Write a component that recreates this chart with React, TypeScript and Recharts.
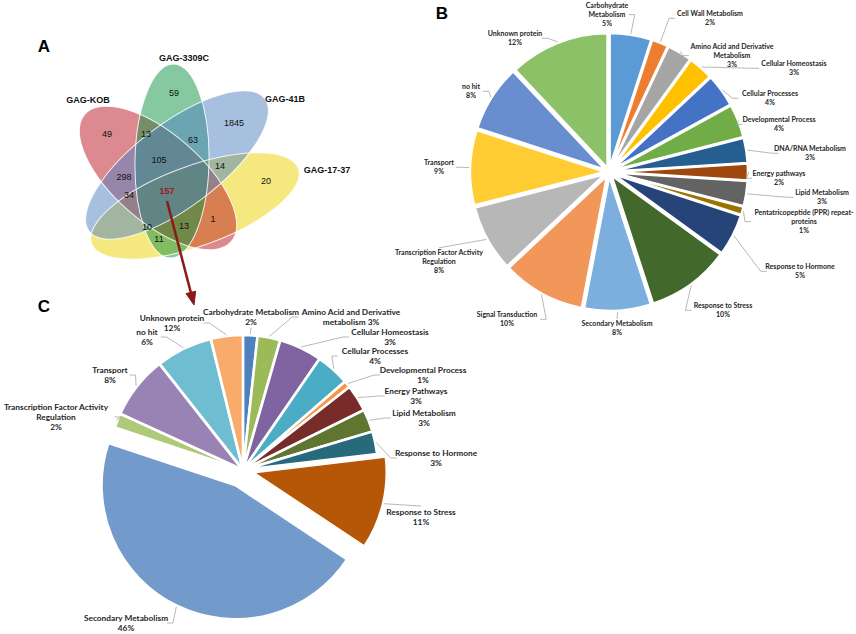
import React from 'react';
import { PieChart, Pie, Sector } from 'recharts';

// ---- panel A: Venn counts ----
const vennSets = ['GAG-KOB', 'GAG-3309C', 'GAG-41B', 'GAG-17-37'];
const vennCounts = [59, 49, 13, 1845, 63, 105, 14, 298, 20, 157, 34, 1, 10, 13, 11];

// ---- panel B ----
const bCategories = [
  'Carbohydrate\nMetabolism', 'Cell Wall Metabolism', 'Amino Acid and Derivative\nMetabolism',
  'Cellular Homeostasis', 'Cellular Processes', 'Developmental Process', 'DNA/RNA Metabolism',
  'Energy pathways', 'Lipid Metabolism', 'Pentatricopeptide (PPR) repeat-\nproteins',
  'Response to Hormone', 'Response to Stress', 'Secondary Metabolism', 'Signal Transduction',
  'Transcription Factor Activity\nRegulation', 'Transport', 'no hit', 'Unknown protein',
];
const bShares = [5, 2, 3, 3, 4, 4, 3, 2, 3, 1, 5, 10, 8, 10, 8, 9, 8, 12];

// ---- panel C ----
const cCategories = [
  'Carbohydrate Metabolism', 'Amino Acid and  Derivative\nmetabolism', 'Cellular Homeostasis',
  'Cellular Processes', 'Developmental Process', 'Energy Pathways', 'Lipid Metabolism',
  'Response to Hormone', 'Response to Stress', 'Secondary Metabolism',
  'Transcription Factor Activity\nRegulation', 'Transport', 'no hit', 'Unknown protein',
];
const cShares = [1.7, 2.7, 5.1, 4.0, 0.8, 3.2, 2.7, 2.7, 11.1, 45.3, 1.7, 7.5, 6.7, 3.8];
const cPrinted = ['2%', '3%', '3%', '4%', '1%', '3%', '3%', '3%', '11%', '46%', '2%', '8%', '6%', '12%'];

// ---- styling / layout ----
const bColors = ['#5b9bd5', '#ed7d31', '#a5a5a5', '#ffc000', '#4472c4', '#70ad47', '#255e91', '#9e480e',
  '#636363', '#997300', '#264478', '#43682b', '#7cafdd', '#f1975a', '#b7b7b7', '#ffcd33', '#698ed0', '#8cc168'];
const cColors = ['#4f81bd', '#9bbb59', '#8064a2', '#4bacc6', '#f79646', '#772c2a', '#5f7530', '#276a7c',
  '#b65708', '#729aca', '#afc97a', '#9983b5', '#6fbdd1', '#f9ab6b'];

const bLabelPos = [[607, 6], [710, 14], [732, 47], [794, 64], [770, 94], [779, 120], [810, 149], [779, 174],
  [822, 193], [804, 213], [800, 267], [723, 306], [617, 324], [507, 315], [439, 253], [439, 163], [471, 87], [515, 34]];
const cLabelPos = [[251, 312], [351, 312], [390, 332], [375, 351], [423, 370], [416, 391], [424, 413],
  [436, 453], [421, 512], [126, 618], [56, 407], [110, 370], [147, 332], [172, 318]];

const vennLabelPos = [[88, 100], [184, 58], [285, 99], [327, 170]];
const vennCountPos = [[174, 93], [107, 134], [146, 134], [234, 123], [193, 140], [159, 160], [220, 166],
  [124, 177], [266, 181], [167, 191], [129, 195], [213, 219], [147, 227], [184, 226], [159, 239]];

// drawn bottom to top: yellow, red, green, blue
const ellipses = [
  { cx: 195, cy: 206, rx: 110, ry: 40, rot: -20, fill: '#ebd100' },
  { cx: 158, cy: 178, rx: 97, ry: 44, rot: 41, fill: '#b91521' },
  { cx: 172, cy: 161, rx: 37, ry: 97, rot: 1, fill: '#0d9141' },
  { cx: 177, cy: 165, rx: 110, ry: 42, rot: -37, fill: '#4f81c1' },
];

const bData = bCategories.map((name, i) => ({ name, value: bShares[i] }));
const cData = cCategories.map((name, i) => ({ name, value: cShares[i] }));

const RAD = Math.PI / 180;
const FONT = 'Lato, "Open Sans", sans-serif';

type LabelCfg = {
  colors: string[];
  pos: number[][];
  lines: (i: number) => string[];
  explode: (i: number) => number;
  fontSize: number;
  lineHeight: number;
};

const makeSlice = (cfg: LabelCfg) => (p: any) => {
  const { cx, cy, outerRadius, startAngle, endAngle, midAngle, index } = p;
  const e = cfg.explode(index);
  const ox = cx + e * Math.cos(-midAngle * RAD);
  const oy = cy + e * Math.sin(-midAngle * RAD);
  const [lx, ly] = cfg.pos[index];
  const lines = cfg.lines(index);
  const fs = cfg.fontSize;
  const lh = cfg.lineHeight;
  const w = Math.max(...lines.map((l) => l.length)) * fs * 0.47;
  const sx = ox + (outerRadius + 1) * Math.cos(-midAngle * RAD);
  const sy = oy + (outerRadius + 1) * Math.sin(-midAngle * RAD);
  const midY = ly + ((lines.length - 1) * lh) / 2;
  let pts: number[][];
  if (lx - w / 2 > sx + 2) {
    const ex = lx - w / 2 - 2;
    pts = [[sx, sy], [ex - 6, midY], [ex, midY]];
  } else if (lx + w / 2 < sx - 2) {
    const ex = lx + w / 2 + 2;
    pts = [[sx, sy], [ex + 6, midY], [ex, midY]];
  } else if (ly < sy) {
    pts = [[sx, sy], [lx, ly + (lines.length - 1) * lh + lh * 0.6]];
  } else {
    pts = [[sx, sy], [lx, ly - lh * 0.6]];
  }
  return (
    <g>
      <Sector
        cx={ox}
        cy={oy}
        innerRadius={0}
        outerRadius={outerRadius}
        startAngle={startAngle}
        endAngle={endAngle}
        fill={cfg.colors[index]}
        stroke="#ffffff"
        strokeWidth={2.5}
      />
      <polyline points={pts.map((q) => q.join(',')).join(' ')} fill="none" stroke="#a6a6a6" strokeWidth={0.8} />
      <text x={lx} y={ly + fs * 0.35} textAnchor="middle" fontSize={fs} fontWeight={700} fontFamily={FONT} fill="#262626">
        {lines.map((l, k) => (
          <tspan key={k} x={lx} dy={k === 0 ? 0 : lh}>{l}</tspan>
        ))}
      </text>
    </g>
  );
};

const bSlice = makeSlice({
  colors: bColors,
  pos: bLabelPos,
  lines: (i) => [...bCategories[i].split('\n'), `${bShares[i]}%`],
  explode: () => 4,
  fontSize: 7,
  lineHeight: 8.6,
});

const cSlice = makeSlice({
  colors: cColors,
  pos: cLabelPos,
  lines: (i) => {
    const parts = cCategories[i].split('\n');
    if (i === 1) return [parts[0], `${parts[1]} ${cPrinted[i]}`];
    return [...parts, cPrinted[i]];
  },
  explode: (i) => (i === 9 ? 17 : i === 8 ? 10 : 1),
  fontSize: 8.3,
  lineHeight: 10,
});

function Venn() {
  return (
    <svg width={856} height={634} style={{ position: 'absolute', left: 0, top: 0, pointerEvents: 'none' }}>
      <text x={44} y={52} textAnchor="middle" fontSize={17} fontWeight={700} fontFamily="Liberation Sans, Arial">A</text>
      <text x={442} y={19} textAnchor="middle" fontSize={17} fontWeight={700} fontFamily="Liberation Sans, Arial">B</text>
      <text x={44} y={312} textAnchor="middle" fontSize={17} fontWeight={700} fontFamily="Liberation Sans, Arial">C</text>
      {ellipses.map((el, i) => (
        <ellipse key={i} cx={el.cx} cy={el.cy} rx={el.rx} ry={el.ry}
          transform={`rotate(${el.rot} ${el.cx} ${el.cy})`} fill={el.fill} fillOpacity={0.5} />
      ))}
      {ellipses.map((el, i) => (
        <ellipse key={'o' + i} cx={el.cx} cy={el.cy} rx={el.rx} ry={el.ry}
          transform={`rotate(${el.rot} ${el.cx} ${el.cy})`} fill="none" stroke="#ffffff" strokeOpacity={0.85} strokeWidth={1} />
      ))}
      {vennSets.map((s, i) => (
        <text key={s} x={vennLabelPos[i][0]} y={vennLabelPos[i][1] + 3.3} textAnchor="middle" fontSize={9}
          fontWeight={700} fontFamily="Liberation Sans, Arial" fill="#111">{s}</text>
      ))}
      {vennCounts.map((n, i) => (
        <text key={i} x={vennCountPos[i][0]} y={vennCountPos[i][1] + 3.2} textAnchor="middle" fontSize={9}
          fontWeight={n === 157 ? 700 : 400} fontFamily="Liberation Sans, Arial" fill={n === 157 ? '#a01622' : '#111'}>{n}</text>
      ))}
      <line x1={167} y1={201} x2={190.8} y2={292.4} stroke="#8b1a1a" strokeWidth={2.5} />
      <polygon points="194,305 195.7,291.2 186,293.6" fill="#8b1a1a" stroke="#8b1a1a" strokeWidth={1} />
    </svg>
  );
}

export default function App() {
  return (
    <div style={{ position: 'absolute', left: 0, top: 0, width: 856, height: 634, background: '#fff' }}>
      <PieChart width={856} height={634} margin={{ top: 0, right: 0, bottom: 0, left: 0 }}>
        <Pie data={bData} dataKey="value" nameKey="name" cx={609} cy={172} outerRadius={135}
          startAngle={90} endAngle={-270} fill="none" stroke="none" label={bSlice} labelLine={false}
          isAnimationActive={false} />
        <Pie data={cData} dataKey="value" nameKey="name" cx={243} cy={470} outerRadius={134}
          startAngle={90} endAngle={-270} fill="none" stroke="none" label={cSlice} labelLine={false}
          isAnimationActive={false} />
      </PieChart>
      <Venn />
    </div>
  );
}
